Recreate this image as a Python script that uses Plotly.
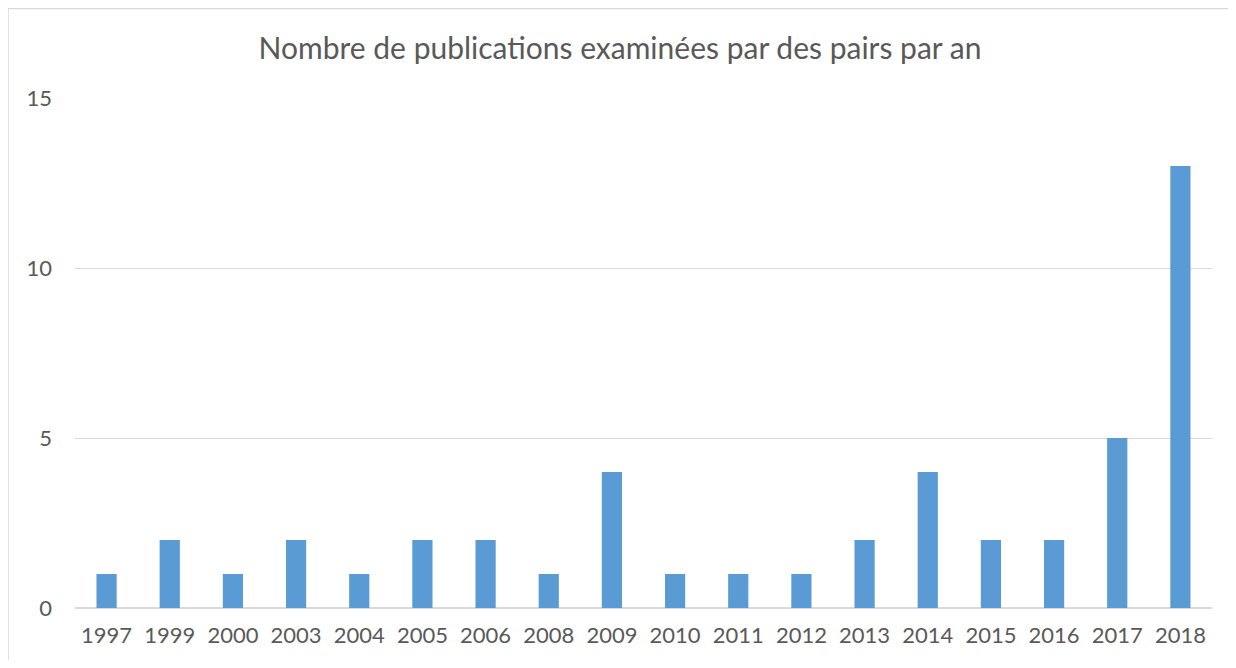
import plotly.graph_objects as go

years = ["1997", "1999", "2000", "2003", "2004", "2005", "2006", "2008", "2009",
         "2010", "2011", "2012", "2013", "2014", "2015", "2016", "2017", "2018"]
counts = [1, 2, 1, 2, 1, 2, 2, 1, 4, 1, 1, 1, 2, 4, 2, 2, 5, 13]
title_text = "Nombre de publications examinées par des pairs par an"
y_ticks = [0, 5, 10, 15]

font_family = "Lato, 'Open Sans', sans-serif"
text_color = "#595959"

fig = go.Figure(go.Bar(x=years, y=counts, marker=dict(color="#5b9bd5", line=dict(width=0))))

# page body has an 8px margin; figure sits at (8, 8)
OFF = 8
W, H = 1236 - 2 * OFF, 668 - 2 * OFF
L, R, T, B = 75 - OFF, 1236 - OFF - 1212, 98 - OFF, 668 - OFF - 608
pw, ph = W - L - R, H - T - B

border = dict(color="#d9d9d9", width=1.5)
fig.update_layout(
    width=W, height=H,
    margin=dict(l=L, r=R, t=T, b=B, autoexpand=False),
    paper_bgcolor="white", plot_bgcolor="white",
    bargap=0.68,
    showlegend=False,
    font=dict(family=font_family, color=text_color, size=22),
    title=dict(text=title_text, x=(620 - OFF) / W, xref="container", xanchor="center",
               y=1 - (48 - OFF) / H, yanchor="middle",
               font=dict(size=30, color=text_color, family=font_family)),
    xaxis=dict(type="category", showgrid=False, showline=False, ticks="",
               ticklabelstandoff=12, automargin=False,
               tickfont=dict(size=22, color=text_color), zeroline=False),
    yaxis=dict(range=[0, 15], tickvals=y_ticks, showgrid=True, gridcolor="#d9d9d9",
               gridwidth=1, zeroline=True, zerolinecolor="#d9d9d9", zerolinewidth=2,
               showline=False, ticks="", ticklabelstandoff=22, automargin=False,
               tickfont=dict(size=22, color=text_color)),
    shapes=[
        dict(type="line", xref="paper", yref="paper",
             x0=(7 - 75 + 1) / pw, x1=(W + 20 - L) / pw,
             y0=(H - B - 0.5) / ph, y1=(H - B - 0.5) / ph, line=border, layer="below"),
        dict(type="line", xref="paper", yref="paper",
             x0=(7 - 75 + 1) / pw, x1=(7 - 75 + 1) / pw,
             y0=-(B + 20) / ph, y1=(H - B - 0.5) / ph, line=border, layer="below"),
    ],
)

fig.write_html("out.html")
